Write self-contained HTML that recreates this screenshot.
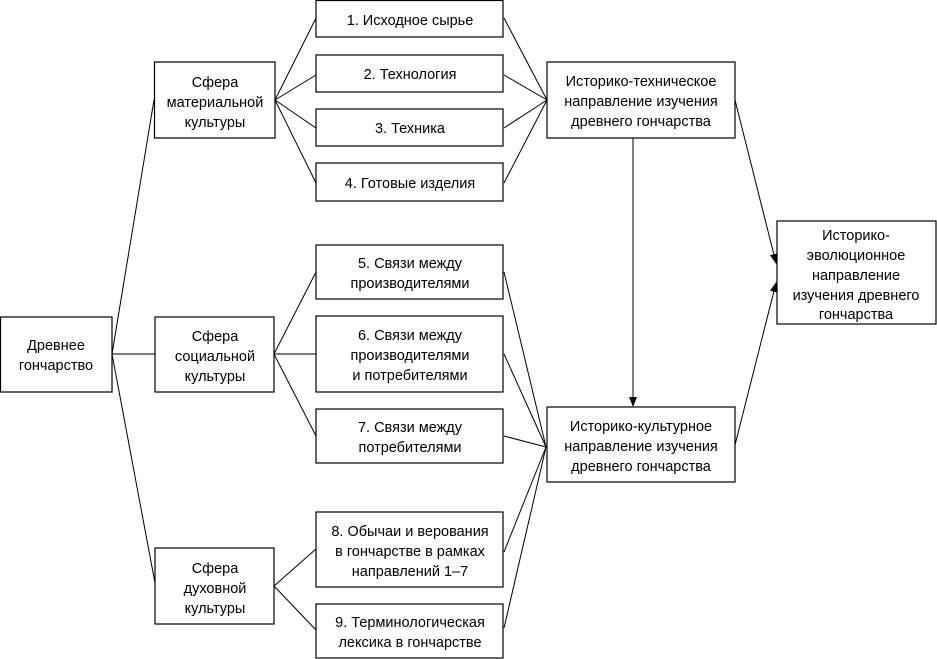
<!DOCTYPE html>
<html><head><meta charset="utf-8"><style>
html,body{margin:0;padding:0;background:#fff;}
svg{display:block;}
text{font-family:"Liberation Sans",sans-serif;font-size:14.5px;fill:#000;text-anchor:middle;}
rect{fill:#fff;stroke:#000;stroke-width:1.2;}
line{stroke:#000;stroke-width:1;}
</style></head><body>
<svg width="937" height="659" viewBox="0 0 937 659" xmlns="http://www.w3.org/2000/svg">
<defs><marker id="a" markerWidth="10" markerHeight="10" refX="9" refY="4" orient="auto" markerUnits="userSpaceOnUse"><path d="M0,0 L10,4 L0,8 z" fill="#000"/></marker></defs>
<!-- connectors -->
<line x1="112" y1="354" x2="154" y2="100"/>
<line x1="112" y1="354" x2="155" y2="354"/>
<line x1="112" y1="354" x2="155" y2="583"/>
<line x1="275" y1="100" x2="316" y2="18"/>
<line x1="275" y1="100" x2="316" y2="75"/>
<line x1="275" y1="100" x2="316" y2="128"/>
<line x1="275" y1="100" x2="316" y2="183"/>
<line x1="504" y1="18" x2="547" y2="100"/>
<line x1="504" y1="75" x2="547" y2="100"/>
<line x1="504" y1="128" x2="547" y2="100"/>
<line x1="504" y1="183" x2="547" y2="100"/>
<line x1="274" y1="354" x2="316" y2="272"/>
<line x1="274" y1="354" x2="316" y2="354"/>
<line x1="274" y1="354" x2="316" y2="436"/>
<line x1="274" y1="586" x2="316" y2="549"/>
<line x1="274" y1="586" x2="316" y2="630"/>
<line x1="504" y1="272" x2="546" y2="447"/>
<line x1="504" y1="354" x2="546" y2="447"/>
<line x1="504" y1="436" x2="546" y2="447"/>
<line x1="504" y1="552" x2="546" y2="447"/>
<line x1="504" y1="628" x2="546" y2="447"/>
<line x1="633" y1="138" x2="633" y2="406" marker-end="url(#a)"/>
<line x1="735" y1="100" x2="776" y2="263" marker-end="url(#a)"/>
<line x1="735" y1="445" x2="776" y2="283" marker-end="url(#a)"/>
<!-- boxes -->
<rect x="0.5" y="317" width="111.5" height="75"/>
<text x="56" y="350">Древнее</text><text x="56" y="370">гончарство</text>
<rect x="154.5" y="62" width="120.5" height="76"/>
<text x="215" y="87">Сфера</text><text x="215" y="107">материальной</text><text x="215" y="127">культуры</text>
<rect x="155" y="317" width="119" height="75"/>
<text x="215" y="341">Сфера</text><text x="215" y="361">социальной</text><text x="215" y="381">культуры</text>
<rect x="155" y="548" width="119" height="76"/>
<text x="215" y="573">Сфера</text><text x="215" y="593">духовной</text><text x="215" y="613">культуры</text>
<rect x="316" y="0.5" width="187" height="36.5"/>
<text x="410" y="25">1. Исходное сырье</text>
<rect x="316" y="55" width="187" height="37"/>
<text x="410" y="79">2. Технология</text>
<rect x="316" y="109" width="187" height="37"/>
<text x="410" y="133">3. Техника</text>
<rect x="316" y="163" width="187" height="38"/>
<text x="410" y="188">4. Готовые изделия</text>
<rect x="316" y="245" width="187" height="54"/>
<text x="410" y="268">5. Связи между</text><text x="410" y="288">производителями</text>
<rect x="316" y="316" width="187" height="76"/>
<text x="410" y="340">6. Связи между</text><text x="410" y="360">производителями</text><text x="410" y="380">и потребителями</text>
<rect x="316" y="409" width="187" height="54"/>
<text x="410" y="432">7. Связи между</text><text x="410" y="452">потребителями</text>
<rect x="316" y="512" width="187" height="75"/>
<text x="410" y="536">8. Обычаи и верования</text><text x="410" y="556">в гончарстве в рамках</text><text x="410" y="576">направлений 1–7</text>
<rect x="316" y="604" width="187" height="54"/>
<text x="410" y="627">9. Терминологическая</text><text x="410" y="647">лексика в гончарстве</text>
<rect x="547" y="62" width="188" height="76"/>
<text x="641" y="86">Историко-техническое</text><text x="641" y="106">направление изучения</text><text x="641" y="126">древнего гончарства</text>
<rect x="547" y="407" width="188" height="75"/>
<text x="641" y="431">Историко-культурное</text><text x="641" y="451">направление изучения</text><text x="641" y="471">древнего гончарства</text>
<rect x="777" y="221" width="159" height="103"/>
<text x="856" y="240">Историко-</text><text x="856" y="260">эволюционное</text><text x="856" y="280">направление</text><text x="856" y="300">изучения древнего</text><text x="856" y="319">гончарства</text>
</svg>
</body></html>
